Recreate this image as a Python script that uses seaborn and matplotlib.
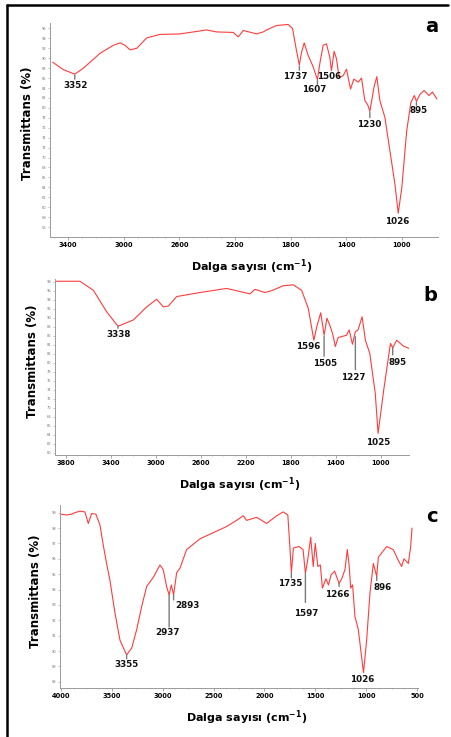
import matplotlib
matplotlib.use("Agg")
import matplotlib.pyplot as plt
from matplotlib.lines import Line2D
import numpy as np
import pandas as pd
import seaborn as sns

sns.set_theme(style="white")
plt.rcParams["font.family"] = ["DejaVu Sans"]
plt.rcParams["text.color"] = "black"
plt.rcParams["axes.labelcolor"] = "black"

# --------------------------------------------------------------------------
# Spectrum data (wavenumber cm-1, transmittance %)
# --------------------------------------------------------------------------
wn_a = [3510, 3434, 3352, 3290, 3170, 3075, 3026, 2990, 2955, 2906, 2835, 2739,
        2595, 2404, 2332, 2212, 2176, 2140, 2045, 1997, 1973, 1901, 1818, 1786,
        1762, 1737, 1722, 1702, 1674, 1638, 1607, 1590, 1566, 1542, 1518, 1506,
        1487, 1470, 1451, 1422, 1398, 1369, 1345, 1314, 1290, 1266, 1245, 1230,
        1200, 1180, 1158, 1122, 1086, 1050, 1026, 1000, 965, 935, 910, 895, 870,
        840, 805, 780, 748]
t_a = [89.2, 87.7, 86.8, 88.0, 91.0, 92.6, 93.1, 92.6, 91.7, 92.0, 94.1, 94.8,
       94.9, 95.7, 95.3, 95.2, 94.3, 95.6, 94.9, 95.3, 95.7, 96.6, 96.8, 96.0,
       92.2, 88.6, 91.1, 93.1, 90.6, 88.3, 85.7, 88.9, 92.6, 92.9, 90.2, 87.5,
       91.4, 89.9, 86.1, 86.5, 87.8, 83.8, 85.8, 85.2, 86.0, 81.5, 80.6, 79.3,
       84.2, 86.3, 81.5, 78.1, 71.4, 64.7, 58.8, 64.0, 75.4, 81.1, 82.5, 81.3,
       82.7, 83.5, 82.5, 83.2, 81.8]

wn_b = [3898, 3676, 3557, 3438, 3338, 3201, 3083, 2994, 2935, 2890, 2816, 2609,
        2372, 2164, 2120, 2031, 1972, 1868, 1779, 1705, 1646, 1596, 1570, 1535,
        1505, 1480, 1455, 1430, 1405, 1380, 1336, 1306, 1282, 1253, 1227, 1203,
        1167, 1137, 1099, 1050, 1025, 975, 915, 895, 860, 800, 752]
t_b = [98.1, 98.1, 96.1, 91.3, 88.1, 89.5, 92.4, 94.1, 92.4, 92.6, 94.7, 95.6,
       96.5, 95.3, 96.3, 95.6, 96.0, 97.1, 97.3, 96.1, 92.1, 85.0, 88.0, 91.1,
       86.1, 89.9, 88.4, 86.5, 83.6, 85.6, 85.9, 86.1, 87.3, 84.1, 86.9, 87.3,
       90.2, 84.9, 82.1, 73.2, 64.3, 73.9, 84.3, 83.3, 85.0, 83.7, 83.2]

wn_c = [4000, 3950, 3900, 3863, 3814, 3765, 3732, 3699, 3657, 3617, 3585, 3552,
        3519, 3470, 3420, 3355, 3305, 3256, 3207, 3158, 3092, 3027, 2995, 2962,
        2937, 2916, 2893, 2863, 2830, 2765, 2634, 2503, 2372, 2274, 2208, 2175,
        2077, 1978, 1880, 1815, 1770, 1750, 1735, 1715, 1660, 1620, 1597, 1575,
        1545, 1520, 1500, 1475, 1450, 1430, 1395, 1370, 1345, 1310, 1266, 1240,
        1208, 1185, 1166, 1152, 1133, 1110, 1077, 1026, 995, 962, 929, 896, 880,
        798, 733, 684, 651, 628, 585, 562, 549]
t_c = [98.9, 98.85, 98.9, 99.0, 99.1, 99.05, 98.3, 98.95, 98.9, 98.2, 96.9, 95.7,
       94.6, 92.5, 90.7, 89.75, 90.2, 91.4, 92.9, 94.2, 94.8, 95.6, 95.3, 94.2,
       93.65, 94.3, 93.65, 95.1, 95.4, 96.6, 97.3, 97.7, 98.1, 98.5, 98.8, 98.5,
       98.7, 98.3, 98.8, 99.05, 98.85, 96.8, 95.1, 96.7, 96.8, 96.6, 95.05, 95.9,
       97.4, 95.5, 97.0, 95.5, 95.6, 94.1, 94.7, 94.3, 94.95, 95.2, 94.4, 94.7,
       95.3, 96.6, 95.5, 94.1, 94.3, 92.25, 91.4, 88.6, 90.7, 93.8, 95.7, 94.85,
       96.1, 96.8, 96.6, 95.9, 95.5, 96.0, 95.7, 96.8, 98.0]

# labelled bands
peaks_a = [3352, 1737, 1607, 1506, 1230, 1026, 895]
peaks_b = [3338, 1596, 1505, 1227, 1025, 895]
peaks_c = [3355, 2937, 2893, 1735, 1597, 1266, 1026, 896]

# axis ticks
xticks_a = [3400, 3000, 2600, 2200, 1800, 1400, 1000]
xticks_b = [3800, 3400, 3000, 2600, 2200, 1800, 1400, 1000]
xticks_c = [4000, 3500, 3000, 2500, 2000, 1500, 1000, 500]
yticks_a = list(range(56, 97, 2))
yticks_b = list(range(60, 99, 2))
yticks_c = list(range(88, 100))

# --------------------------------------------------------------------------
# layout (pixels in a 451x737 canvas)
# --------------------------------------------------------------------------
W, H = 451, 737
DPI = 100
PT = 72.0 / DPI

# label offsets per band: (dx, dy of text centre, line gap, line length) in px
offs_a = [(1, 11, 1, 4), (-4, 11, 1, 4), (-3, 10, 1, 4), (-2, 6, 0, 0),
          (-1, 13, 1, 5), (-1, 8, 0, 0), (2, 9, 1, 3)]
offs_b = [(1, 8, 0, 2), (-6, 6, 0, 0), (1, 28, 1, 20), (-2, 46, 5, 33),
          (0, 9, 0, 0), (5, 15, 0, 7)]
offs_c = [(0, 10, 0, 4), (-2, 38, 0, 32), (14, 11, 0, 5), (-1, 11, 0, 5),
          (1, 40, 0, 29), (-2, 11, 0, 3), (-1, 7, 0, 0), (6, 11, 0, 4)]

panels = [
    dict(wn=wn_a, t=t_a, peaks=peaks_a, offs=offs_a, box=(50, 23, 438, 237),
         xlim=(3530, 740), ylim=(54, 97.1), xticks=xticks_a, yticks=yticks_a,
         minor=100, letter="a", lpos=(432, 27), ylab_x=34),
    dict(wn=wn_b, t=t_b, peaks=peaks_b, offs=offs_b, box=(55, 279, 409, 455),
         xlim=(3898, 750), ylim=(59.5, 98.6), xticks=xticks_b, yticks=yticks_b,
         minor=100, letter="b", lpos=(430, 295), ylab_x=39),
    dict(wn=wn_c, t=t_c, peaks=peaks_c, offs=offs_c, box=(60, 505, 418, 688),
         xlim=(4010, 490), ylim=(87.6, 99.5), xticks=xticks_c, yticks=yticks_c,
         minor=125, letter="c", lpos=(432, 517), ylab_x=42),
]

fig = plt.figure(figsize=(W / DPI, H / DPI), dpi=DPI)
fig.patch.set_facecolor("white")

red = "#ff3c3c"
grey = "#9a9a9a"

for p in panels:
    l, t, r, b = p["box"]
    ax = fig.add_axes([l / W, 1 - b / H, (r - l) / W, (b - t) / H])
    df = pd.DataFrame({"wn": p["wn"], "T": p["t"]})
    sns.lineplot(data=df, x="wn", y="T", ax=ax, color=red, lw=0.8,
                 estimator=None, sort=False)
    ax.set_xlim(*p["xlim"])
    ax.set_ylim(*p["ylim"])

    for s in ["top", "right"]:
        ax.spines[s].set_visible(False)
    for s in ["left", "bottom"]:
        ax.spines[s].set_color(grey)
        ax.spines[s].set_linewidth(0.7)

    ax.set_xticks(p["xticks"])
    ax.set_xticklabels([str(v) for v in p["xticks"]], fontsize=4.8,
                       fontweight="bold")
    lo = max(p["xlim"])
    ax.set_xticks(np.arange(p["xticks"][-1], lo, p["minor"]), minor=True)
    ax.set_yticks(p["yticks"])
    ax.set_yticklabels([str(v) for v in p["yticks"]], fontsize=2.6)
    ax.tick_params(axis="x", which="major", direction="out", length=2,
                   width=0.6, color=grey, labelcolor="black", pad=1.5,
                   bottom=True)
    ax.tick_params(axis="x", which="minor", direction="out", length=1,
                   width=0.4, color=grey, bottom=True)
    ax.tick_params(axis="y", direction="out", length=1.5, width=0.4,
                   color=grey, labelcolor="#777777", pad=1, left=True)

    ax.set_xlabel("Dalga sayısı (cm$^{\\mathbf{-1}}$)", fontsize=8,
                  fontweight="bold")
    ax.set_ylabel("Transmittans (%)", fontsize=8.5, fontweight="bold")
    ax.yaxis.set_label_coords((p["ylab_x"] - l) / (r - l), 0.53)
    ax.xaxis.set_label_coords(0.52, -20.0 / (b - t))

    # band labels with short grey leader lines
    for wn, (dx, dy, gap, ln) in zip(p["peaks"], p["offs"]):
        yv = np.interp(wn, p["wn"][::-1], p["t"][::-1])
        if ln > 0:
            ax.annotate("", xy=(wn, yv), xycoords="data",
                        xytext=(0, -(gap + ln) * PT), textcoords="offset points",
                        arrowprops=dict(arrowstyle="-", color="#7a7a7a", lw=1.0,
                                        patchA=None, shrinkA=0,
                                        shrinkB=gap * PT))
        ax.annotate(str(wn), xy=(wn, yv), xycoords="data",
                    xytext=(dx * PT, -dy * PT), textcoords="offset points",
                    ha="center", va="center", fontsize=6.3, fontweight="bold",
                    color="#111111")

    fig.text(p["lpos"][0] / W, 1 - p["lpos"][1] / H, p["letter"],
             fontsize=14, fontweight="bold", ha="center", va="center")

# outer frame (top and left edges)
fig.add_artist(Line2D([7 / W, 448 / W], [1 - 5 / H, 1 - 5 / H], color="black",
                      lw=1.8, transform=fig.transFigure))
fig.add_artist(Line2D([7 / W, 7 / W], [0, 1 - 5 / H], color="black",
                      lw=1.8, transform=fig.transFigure))

fig.savefig("out.png", dpi=DPI)
